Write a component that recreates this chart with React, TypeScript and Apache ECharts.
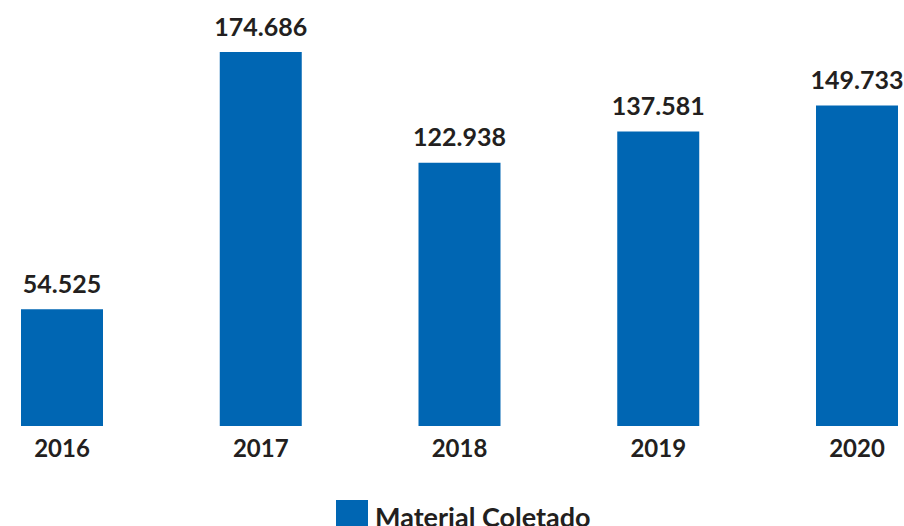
import React, { useEffect, useRef } from "react";
import * as echarts from "echarts";

const categories = ["2016", "2017", "2018", "2019", "2020"];
const values = [54.525, 174.686, 122.938, 137.581, 149.733];
const valueLabels = ["54.525", "174.686", "122.938", "137.581", "149.733"];
const seriesName = "Material Coletado";

export default function App() {
  const ref = useRef<HTMLDivElement>(null);
  useEffect(() => {
    document.body.style.margin = "0";
    const chart = echarts.init(ref.current!, null, { renderer: "svg" });
    const font = "Lato, 'Noto Sans', sans-serif";
    chart.setOption({
      animation: false,
      backgroundColor: "#ffffff",
      grid: { left: 62, right: 47, top: 0, bottom: 100, containLabel: false },
      legend: {
        left: 331,
        top: 495,
        itemWidth: 32,
        itemHeight: 32,
        itemGap: 10,
        icon: "rect",
        textStyle: { fontFamily: font, fontWeight: "bold", fontSize: 27, color: "#231f20", padding: [0, 0, 0, 2] },
        data: [seriesName],
      },
      xAxis: {
        type: "category",
        data: categories,
        boundaryGap: false,
        axisLine: { show: false },
        axisTick: { show: false },
        axisLabel: { fontFamily: font, fontWeight: "bold", fontSize: 24, color: "#231f20", margin: 9 },
      },
      yAxis: {
        type: "value",
        min: 0,
        max: 199,
        show: false,
        splitLine: { show: false },
      },
      series: [
        {
          name: seriesName,
          type: "bar",
          data: values,
          barWidth: 82,
          itemStyle: { color: "#0066b3" },
          label: {
            show: true,
            position: "top",
            distance: 14,
            fontFamily: font,
            fontWeight: "bold",
            fontSize: 25,
            color: "#231f20",
            formatter: (p: any) => valueLabels[p.dataIndex],
          },
        },
      ],
    });
    return () => chart.dispose();
  }, []);
  return <div ref={ref} style={{ width: 904, height: 526 }} />;
}
